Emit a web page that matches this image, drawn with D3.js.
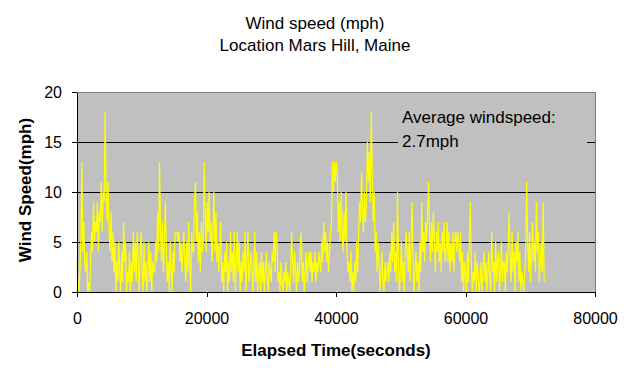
<!DOCTYPE html>
<html>
<head>
<meta charset="utf-8">
<script src="https://cdn.jsdelivr.net/npm/d3@7"></script>
<style>
  body { margin: 0; background: #fff; }
  text { font-family: Arial, "Liberation Sans", sans-serif; fill: #000; }
</style>
</head>
<body>
<svg id="chart" width="627" height="371"></svg>
<script>
// wind speed readings (mph), one every 150 s
const sampleInterval = 150;
const speedRows = [
  [3,1,0,2,5,13,4,7,3,2,4,0,1,0,3,6,4,9,5,7],
  [6,9,4,8,7,11,6,10,9,18,10,7,11,6,4,8,3,6,2,5],
  [0,3,1,5,2,0,4,1,7,3,5,0,2,1,4,0,3,1,6,2],
  [5,1,6,3,0,4,6,2,0,5,1,3,0,2,5,1,4,0,3,2],
  [2,5,3,8,4,13,6,3,7,2,5,9,4,1,3,0,5,2,0,4],
  [2,6,6,6,5,6,3,5,2,4,6,3,1,5,2,7,3,0,6,4],
  [4,9,11,5,8,3,6,2,7,4,5,13,8,4,9,6,10,5,7,3],
  [6,10,4,8,3,5,2,4,7,1,3,0,4,2,5,0,3,1,6,2],
  [4,1,6,0,3,6,2,5,0,3,1,4,2,6,0,3,6,1,2,4],
  [3,0,2,6,1,4,0,2,3,0,4,1,3,0,2,4,1,0,3,2],
  [1,4,3,6,2,6,5,1,2,0,3,1,0,2,1,3,0,2,1,0],
  [2,6,3,1,4,2,0,3,1,2,5,6,1,3,0,2,4,1,3,4],
  [2,4,1,3,2,4,1,3,2,4,3,2,5,3,7,4,6,3,5,2],
  [4,6,7,13,10,13,11,13,12,6,9,5,10,6,4,8,5,10,4,2],
  [3,1,4,0,2,0,3,1,5,2,6,9,7,12,8,6,10,7,9,15],
  [11,14,9,18,12,7,10,4,6,2,5,3,0,2,4,1,0,3,1,2],
  [3,1,4,2,6,3,7,2,4,1,10,3,0,2,5,1,3,0,4,6],
  [4,2,6,1,5,9,3,0,2,4,1,3,0,5,2,9,4,6,3,7],
  [5,8,11,6,3,7,4,8,5,2,6,4,7,3,5,2,6,4,7,3],
  [4,7,3,6,2,5,3,6,2,5,6,4,6,5,3,6,1,4,0,3],
  [2,0,4,1,5,9,3,0,2,1,4,0,3,2,0,1,3,0,2,4],
  [1,3,0,2,4,1,0,6,2,3,0,5,1,3,4,0,2,5,1,3],
  [3,0,4,2,5,8,3,1,6,2,4,0,5,3,6,1,4,0,2,1],
  [0,2,4,11,5,2,6,1,4,7,3,5,2,9,4,6,1,3,5,2],
  [9,1]
];
const xTicks = [0, 20000, 40000, 60000, 80000];
const yTicks = [0, 5, 10, 15, 20];
const titleLines = ["Wind speed (mph)", "Location Mars Hill, Maine"];
const noteLines = ["Average windspeed:", "2.7mph"];

const speeds = speedRows.flat();
const data = speeds.map((v, i) => ({ t: i * sampleInterval, v: v }));

const svg = d3.select("#chart");
const plot = { left: 77, right: 595, top: 92, bottom: 292 };

const x = d3.scaleLinear().domain([0, 80000]).range([plot.left, plot.right]);
const y = d3.scaleLinear().domain([0, 20]).range([plot.bottom, plot.top]);

// gray plot area
svg.append("rect")
  .attr("x", plot.left)
  .attr("y", plot.top)
  .attr("width", plot.right - plot.left)
  .attr("height", plot.bottom - plot.top)
  .style("fill", "#c0c0c0")
  .style("stroke", "#808080")
  .style("stroke-width", 1)
  .attr("shape-rendering", "crispEdges");

// gridlines
svg.append("g")
  .selectAll("line")
  .data(yTicks.filter(d => d > 0 && d < 20))
  .enter()
  .append("line")
  .attr("x1", plot.left)
  .attr("x2", plot.right)
  .attr("y1", d => y(d))
  .attr("y2", d => y(d))
  .style("stroke", "#000")
  .attr("shape-rendering", "crispEdges");

// the wind trace
svg.append("path")
  .datum(data)
  .style("fill", "none")
  .style("stroke", "#ffff00")
  .style("stroke-width", 1.2)
  .attr("d", d3.line().x(d => x(d.t)).y(d => y(d.v)));

// annotation box hides the gridline behind it
svg.append("rect")
  .attr("x", 398)
  .attr("y", 106)
  .attr("width", 189)
  .attr("height", 48)
  .style("fill", "#c0c0c0");

svg.append("g")
  .selectAll("text")
  .data(noteLines)
  .enter()
  .append("text")
  .attr("x", 402)
  .attr("y", (d, i) => 123 + i * 24)
  .style("font-size", "17px")
  .text(d => d);

// axes
const xAxis = svg.append("g")
  .attr("transform", "translate(0," + plot.bottom + ")")
  .call(d3.axisBottom(x).tickValues(xTicks).tickSize(5).tickSizeOuter(0).tickPadding(16).tickFormat(d3.format("d")));
const yAxis = svg.append("g")
  .attr("transform", "translate(" + plot.left + ",0)")
  .call(d3.axisLeft(y).tickValues(yTicks).tickSize(5).tickSizeOuter(0).tickPadding(10));

[xAxis, yAxis].forEach(function(ax) {
  ax.selectAll("path, line").style("stroke", "#000").attr("shape-rendering", "crispEdges");
  ax.selectAll("text")
    .style("font-size", "16px")
    .style("font-family", "Arial, 'Liberation Sans', sans-serif")
    .style("fill", "#000");
});

// titles
svg.append("g")
  .selectAll("text")
  .data(titleLines)
  .enter()
  .append("text")
  .attr("x", 315)
  .attr("y", (d, i) => 29 + i * 21.5)
  .style("text-anchor", "middle")
  .style("font-size", "17px")
  .text(d => d);

svg.append("text")
  .attr("x", 336)
  .attr("y", 356)
  .style("text-anchor", "middle")
  .style("font-size", "17px")
  .style("font-weight", "bold")
  .text("Elapsed Time(seconds)");

svg.append("text")
  .attr("transform", "translate(31,190) rotate(-90)")
  .style("text-anchor", "middle")
  .style("font-size", "17px")
  .style("font-weight", "bold")
  .text("Wind Speed(mph)");
</script>
</body>
</html>
